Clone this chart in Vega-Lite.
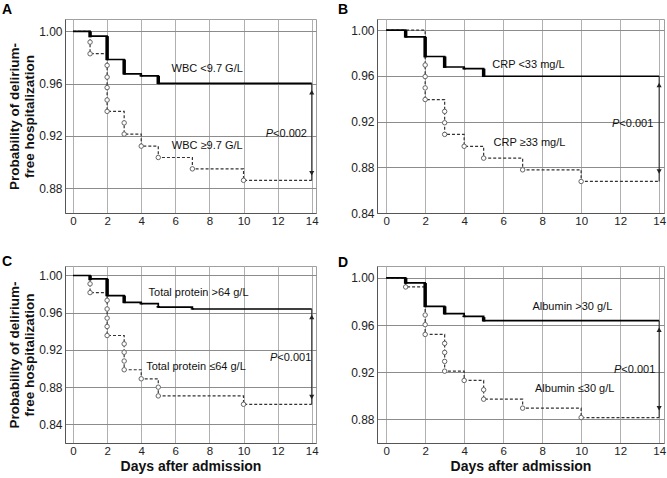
{
  "$schema": "https://vega.github.io/schema/vega-lite/v6.json",
  "background": "white",
  "padding": {"left": 1, "top": 2, "right": 0, "bottom": 0},
  "autosize": {"type": "pad"},
  "bounds": "flush",
  "columns": 2,
  "spacing": {"row": 53, "column": 61},
  "datasets": {
    "curve": [
      {"p":"A","g":"lo","day":0,"s":1},{"p":"A","g":"lo","day":1,"s":0.9964},{"p":"A","g":"lo","day":2,"s":0.9785},{"p":"A","g":"lo","day":3,"s":0.9675},{"p":"A","g":"lo","day":4,"s":0.966},{"p":"A","g":"lo","day":5,"s":0.9603},{"p":"A","g":"lo","day":14,"s":0.9603},
      {"p":"A","g":"hi","day":0,"s":1},{"p":"A","g":"hi","day":1,"s":0.983},{"p":"A","g":"hi","day":2,"s":0.9388},{"p":"A","g":"hi","day":3,"s":0.9214},{"p":"A","g":"hi","day":4,"s":0.9122},{"p":"A","g":"hi","day":5,"s":0.9035},{"p":"A","g":"hi","day":7,"s":0.8948},{"p":"A","g":"hi","day":10,"s":0.886},{"p":"A","g":"hi","day":14,"s":0.886},
      {"p":"B","g":"lo","day":0,"s":1},{"p":"B","g":"lo","day":1,"s":0.9942},{"p":"B","g":"lo","day":2,"s":0.977},{"p":"B","g":"lo","day":3,"s":0.9678},{"p":"B","g":"lo","day":4,"s":0.9663},{"p":"B","g":"lo","day":5,"s":0.9597},{"p":"B","g":"lo","day":14,"s":0.9597},
      {"p":"B","g":"hi","day":0,"s":1},{"p":"B","g":"hi","day":2,"s":0.9393},{"p":"B","g":"hi","day":3,"s":0.9088},{"p":"B","g":"hi","day":4,"s":0.8984},{"p":"B","g":"hi","day":5,"s":0.888},{"p":"B","g":"hi","day":7,"s":0.8778},{"p":"B","g":"hi","day":10,"s":0.8676},{"p":"B","g":"hi","day":14,"s":0.8676},
      {"p":"C","g":"lo","day":0,"s":1},{"p":"C","g":"lo","day":1,"s":0.9964},{"p":"C","g":"lo","day":2,"s":0.9784},{"p":"C","g":"lo","day":3,"s":0.9712},{"p":"C","g":"lo","day":4,"s":0.9697},{"p":"C","g":"lo","day":5,"s":0.9661},{"p":"C","g":"lo","day":7,"s":0.964},{"p":"C","g":"lo","day":14,"s":0.964},
      {"p":"C","g":"hi","day":0,"s":1},{"p":"C","g":"hi","day":1,"s":0.9816},{"p":"C","g":"hi","day":2,"s":0.9355},{"p":"C","g":"hi","day":3,"s":0.8987},{"p":"C","g":"hi","day":4,"s":0.889},{"p":"C","g":"hi","day":5,"s":0.8706},{"p":"C","g":"hi","day":10,"s":0.8616},{"p":"C","g":"hi","day":14,"s":0.8616},
      {"p":"D","g":"lo","day":0,"s":1},{"p":"D","g":"lo","day":1,"s":0.9957},{"p":"D","g":"lo","day":2,"s":0.9759},{"p":"D","g":"lo","day":3,"s":0.9696},{"p":"D","g":"lo","day":4,"s":0.9674},{"p":"D","g":"lo","day":5,"s":0.9637},{"p":"D","g":"lo","day":14,"s":0.9637},
      {"p":"D","g":"hi","day":0,"s":1},{"p":"D","g":"hi","day":1,"s":0.9923},{"p":"D","g":"hi","day":2,"s":0.952},{"p":"D","g":"hi","day":3,"s":0.9208},{"p":"D","g":"hi","day":4,"s":0.9129},{"p":"D","g":"hi","day":5,"s":0.897},{"p":"D","g":"hi","day":7,"s":0.8894},{"p":"D","g":"hi","day":10,"s":0.8814},{"p":"D","g":"hi","day":14,"s":0.8814}
    ],
    "bars": [
      {"p":"A","day":1,"s":1.0,"s2":0.9955},{"p":"A","day":2,"s":0.9964,"s2":0.978},{"p":"A","day":3,"s":0.9785,"s2":0.967},{"p":"A","day":4,"s":0.9667,"s2":0.9655},{"p":"A","day":5,"s":0.966,"s2":0.9597},
      {"p":"B","day":1,"s":1.0,"s2":0.9935},{"p":"B","day":2,"s":0.9942,"s2":0.9762},{"p":"B","day":3,"s":0.977,"s2":0.967},{"p":"B","day":4,"s":0.967,"s2":0.9657},{"p":"B","day":5,"s":0.9663,"s2":0.959},
      {"p":"C","day":1,"s":1.0,"s2":0.995},{"p":"C","day":2,"s":0.9964,"s2":0.9777},{"p":"C","day":3,"s":0.9784,"s2":0.9703},{"p":"C","day":4,"s":0.9703,"s2":0.969},{"p":"C","day":5,"s":0.9672,"s2":0.9655},{"p":"C","day":7,"s":0.9648,"s2":0.9635},
      {"p":"D","day":1,"s":1.0,"s2":0.995},{"p":"D","day":2,"s":0.9957,"s2":0.9752},{"p":"D","day":3,"s":0.9759,"s2":0.969},{"p":"D","day":4,"s":0.968,"s2":0.9667},{"p":"D","day":5,"s":0.9667,"s2":0.963}
    ],
    "circ": [
      {"p":"A","day":1,"s":0.9918},{"p":"A","day":1,"s":0.9829},{"p":"A","day":2,"s":0.974},{"p":"A","day":2,"s":0.965},{"p":"A","day":2,"s":0.957},{"p":"A","day":2,"s":0.9475},{"p":"A","day":2,"s":0.9388},{"p":"A","day":3,"s":0.930},{"p":"A","day":3,"s":0.9214},{"p":"A","day":4,"s":0.9122},{"p":"A","day":5,"s":0.9035},{"p":"A","day":7,"s":0.8948},{"p":"A","day":10,"s":0.886},
      {"p":"B","day":2,"s":0.9695},{"p":"B","day":2,"s":0.9594},{"p":"B","day":2,"s":0.9495},{"p":"B","day":2,"s":0.9393},{"p":"B","day":3,"s":0.9289},{"p":"B","day":3,"s":0.919},{"p":"B","day":3,"s":0.9088},{"p":"B","day":4,"s":0.8984},{"p":"B","day":5,"s":0.888},{"p":"B","day":7,"s":0.8778},{"p":"B","day":10,"s":0.8676},
      {"p":"C","day":1,"s":0.991},{"p":"C","day":1,"s":0.9816},{"p":"C","day":2,"s":0.9733},{"p":"C","day":2,"s":0.964},{"p":"C","day":2,"s":0.9542},{"p":"C","day":2,"s":0.9452},{"p":"C","day":2,"s":0.9355},{"p":"C","day":3,"s":0.9265},{"p":"C","day":3,"s":0.9175},{"p":"C","day":3,"s":0.9081},{"p":"C","day":3,"s":0.8987},{"p":"C","day":4,"s":0.889},{"p":"C","day":5,"s":0.88},{"p":"C","day":5,"s":0.8706},{"p":"C","day":10,"s":0.8616},
      {"p":"D","day":1,"s":0.9923},{"p":"D","day":2,"s":0.9685},{"p":"D","day":2,"s":0.9603},{"p":"D","day":2,"s":0.952},{"p":"D","day":3,"s":0.9444},{"p":"D","day":3,"s":0.9367},{"p":"D","day":3,"s":0.9291},{"p":"D","day":3,"s":0.9208},{"p":"D","day":4,"s":0.9129},{"p":"D","day":5,"s":0.905},{"p":"D","day":5,"s":0.897},{"p":"D","day":7,"s":0.8894},{"p":"D","day":10,"s":0.8814}
    ],
    "arrow": [
      {"p":"A","day":14,"s":0.9603,"s2":0.886},{"p":"B","day":14,"s":0.9597,"s2":0.8676},{"p":"C","day":14,"s":0.964,"s2":0.8616},{"p":"D","day":14,"s":0.9637,"s2":0.8814}
    ],
    "head": [
      {"p":"A","day":14,"s":0.9534,"shape":"triangle-up"},{"p":"A","day":14,"s":0.8914,"shape":"triangle-down"},
      {"p":"B","day":14,"s":0.952,"shape":"triangle-up"},{"p":"B","day":14,"s":0.8763,"shape":"triangle-down"},
      {"p":"C","day":14,"s":0.9554,"shape":"triangle-up"},{"p":"C","day":14,"s":0.8695,"shape":"triangle-down"},
      {"p":"D","day":14,"s":0.956,"shape":"triangle-up"},{"p":"D","day":14,"s":0.8893,"shape":"triangle-down"}
    ],
    "lab": [
      {"p":"A","day":7.87,"s":0.9713,"t":"WBC <9.7 G/L"},{"p":"A","day":7.87,"s":0.9125,"t":"WBC ≥9.7 G/L"},
      {"p":"B","day":7.30,"s":0.9692,"t":"CRP <33 mg/L"},{"p":"B","day":7.35,"s":0.9016,"t":"CRP ≥33 mg/L"},
      {"p":"C","day":7.36,"s":0.9816,"t":"Total protein >64 g/L"},{"p":"C","day":7.21,"s":0.9013,"t":"Total protein ≤64 g/L"},
      {"p":"D","day":9.55,"s":0.975,"t":"Albumin >30 g/L"},{"p":"D","day":9.67,"s":0.9055,"t":"Albumin ≤30 g/L"}
    ],
    "pv": [
      {"p":"A","day":11.73,"s":0.9214,"t":"<0.002"},{"p":"B","day":11.96,"s":0.918,"t":"<0.001"},{"p":"C","day":11.98,"s":0.9113,"t":"<0.001"},{"p":"D","day":12.06,"s":0.922,"t":"<0.001"}
    ]
  },
  "concat": [
    {
      "width": 251, "height": 194,
      "title": {"text": "A", "anchor": "start", "frame": "group", "dx": -63, "dy": 18, "offset": 9, "baseline": "alphabetic", "fontSize": 14, "fontWeight": "bold", "color": "#000"},
      "encoding": {
        "x": {"field": "day", "type": "quantitative", "scale": {"domain": [-0.47, 14.25], "nice": false, "zero": false}, "axis": {"values": [0,2,4,6,8,10,12,14], "title": null}},
        "y": {"field": "s", "type": "quantitative", "scale": {"domain": [0.861, 1.0095], "nice": false, "zero": false}, "axis": {"values": [0.88,0.92,0.96,1.0], "format": ".2f", "title": ["Probability of delirium-", "free hospitalization"]}}
      },
      "layer": [
        {"data": {"name": "curve"}, "transform": [{"filter": "datum.p==='A' && datum.g==='hi'"}], "mark": {"type": "line", "interpolate": "step-after", "color": "#333", "strokeWidth": 1.2, "strokeDash": [3,2]}},
        {"data": {"name": "curve"}, "transform": [{"filter": "datum.p==='A' && datum.g==='lo'"}], "mark": {"type": "line", "interpolate": "step-after", "color": "#000", "strokeWidth": 1.7}},
        {"data": {"name": "bars"}, "transform": [{"filter": "datum.p==='A'"}], "mark": {"type": "rule", "color": "#000", "strokeWidth": 3.5}, "encoding": {"y2": {"field": "s2"}}},
        {"data": {"name": "circ"}, "transform": [{"filter": "datum.p==='A'"}], "mark": {"type": "point", "shape": "circle", "filled": true, "fill": "white", "stroke": "#666", "strokeWidth": 1, "size": 20, "opacity": 1}},
        {"data": {"name": "arrow"}, "transform": [{"filter": "datum.p==='A'"}], "mark": {"type": "rule", "color": "#222", "strokeWidth": 1}, "encoding": {"y2": {"field": "s2"}}},
        {"data": {"name": "head"}, "transform": [{"filter": "datum.p==='A'"}], "mark": {"type": "point", "filled": true, "color": "#222", "size": 26, "opacity": 1}, "encoding": {"shape": {"field": "shape", "type": "nominal", "scale": null}}},
        {"data": {"name": "lab"}, "transform": [{"filter": "datum.p==='A'"}], "mark": {"type": "text", "fontSize": 11, "align": "center", "baseline": "middle", "color": "#111"}, "encoding": {"text": {"field": "t"}}},
        {"data": {"name": "pv"}, "transform": [{"filter": "datum.p==='A'"}], "mark": {"type": "text", "text": "P", "fontStyle": "italic", "fontSize": 11, "align": "right", "baseline": "middle", "color": "#111"}},
        {"data": {"name": "pv"}, "transform": [{"filter": "datum.p==='A'"}], "mark": {"type": "text", "fontSize": 11, "align": "left", "baseline": "middle", "color": "#111"}, "encoding": {"text": {"field": "t"}}}
      ]
    },
    {
      "width": 287, "height": 194,
      "title": {"text": "B", "anchor": "start", "frame": "group", "dx": -39, "dy": 18, "offset": 9, "baseline": "alphabetic", "fontSize": 14, "fontWeight": "bold", "color": "#000"},
      "encoding": {
        "x": {"field": "day", "type": "quantitative", "scale": {"domain": [-0.47, 14.25], "nice": false, "zero": false}, "axis": {"values": [0,2,4,6,8,10,12,14], "title": null}},
        "y": {"field": "s", "type": "quantitative", "scale": {"domain": [0.84, 1.0098], "nice": false, "zero": false}, "axis": {"values": [0.84,0.88,0.92,0.96,1.0], "format": ".2f", "title": null}}
      },
      "layer": [
        {"data": {"name": "curve"}, "transform": [{"filter": "datum.p==='B' && datum.g==='hi'"}], "mark": {"type": "line", "interpolate": "step-after", "color": "#333", "strokeWidth": 1.2, "strokeDash": [3,2]}},
        {"data": {"name": "curve"}, "transform": [{"filter": "datum.p==='B' && datum.g==='lo'"}], "mark": {"type": "line", "interpolate": "step-after", "color": "#000", "strokeWidth": 1.7}},
        {"data": {"name": "bars"}, "transform": [{"filter": "datum.p==='B'"}], "mark": {"type": "rule", "color": "#000", "strokeWidth": 3.5}, "encoding": {"y2": {"field": "s2"}}},
        {"data": {"name": "circ"}, "transform": [{"filter": "datum.p==='B'"}], "mark": {"type": "point", "shape": "circle", "filled": true, "fill": "white", "stroke": "#666", "strokeWidth": 1, "size": 20, "opacity": 1}},
        {"data": {"name": "arrow"}, "transform": [{"filter": "datum.p==='B'"}], "mark": {"type": "rule", "color": "#222", "strokeWidth": 1}, "encoding": {"y2": {"field": "s2"}}},
        {"data": {"name": "head"}, "transform": [{"filter": "datum.p==='B'"}], "mark": {"type": "point", "filled": true, "color": "#222", "size": 26, "opacity": 1}, "encoding": {"shape": {"field": "shape", "type": "nominal", "scale": null}}},
        {"data": {"name": "lab"}, "transform": [{"filter": "datum.p==='B'"}], "mark": {"type": "text", "fontSize": 11, "align": "center", "baseline": "middle", "color": "#111"}, "encoding": {"text": {"field": "t"}}},
        {"data": {"name": "pv"}, "transform": [{"filter": "datum.p==='B'"}], "mark": {"type": "text", "text": "P", "fontStyle": "italic", "fontSize": 11, "align": "right", "baseline": "middle", "color": "#111"}},
        {"data": {"name": "pv"}, "transform": [{"filter": "datum.p==='B'"}], "mark": {"type": "text", "fontSize": 11, "align": "left", "baseline": "middle", "color": "#111"}, "encoding": {"text": {"field": "t"}}}
      ]
    },
    {
      "width": 251, "height": 177,
      "title": {"text": "C", "anchor": "start", "frame": "group", "dx": -63, "dy": 15, "offset": 1, "baseline": "alphabetic", "fontSize": 14, "fontWeight": "bold", "color": "#000"},
      "encoding": {
        "x": {"field": "day", "type": "quantitative", "scale": {"domain": [-0.47, 14.25], "nice": false, "zero": false}, "axis": {"values": [0,2,4,6,8,10,12,14], "title": "Days after admission"}},
        "y": {"field": "s", "type": "quantitative", "scale": {"domain": [0.82, 1.0102], "nice": false, "zero": false}, "axis": {"values": [0.84,0.88,0.92,0.96,1.0], "format": ".2f", "title": ["Probability of delirium-", "free hospitalization"]}}
      },
      "layer": [
        {"data": {"name": "curve"}, "transform": [{"filter": "datum.p==='C' && datum.g==='hi'"}], "mark": {"type": "line", "interpolate": "step-after", "color": "#333", "strokeWidth": 1.2, "strokeDash": [3,2]}},
        {"data": {"name": "curve"}, "transform": [{"filter": "datum.p==='C' && datum.g==='lo'"}], "mark": {"type": "line", "interpolate": "step-after", "color": "#000", "strokeWidth": 1.7}},
        {"data": {"name": "bars"}, "transform": [{"filter": "datum.p==='C'"}], "mark": {"type": "rule", "color": "#000", "strokeWidth": 3.5}, "encoding": {"y2": {"field": "s2"}}},
        {"data": {"name": "circ"}, "transform": [{"filter": "datum.p==='C'"}], "mark": {"type": "point", "shape": "circle", "filled": true, "fill": "white", "stroke": "#666", "strokeWidth": 1, "size": 20, "opacity": 1}},
        {"data": {"name": "arrow"}, "transform": [{"filter": "datum.p==='C'"}], "mark": {"type": "rule", "color": "#222", "strokeWidth": 1}, "encoding": {"y2": {"field": "s2"}}},
        {"data": {"name": "head"}, "transform": [{"filter": "datum.p==='C'"}], "mark": {"type": "point", "filled": true, "color": "#222", "size": 26, "opacity": 1}, "encoding": {"shape": {"field": "shape", "type": "nominal", "scale": null}}},
        {"data": {"name": "lab"}, "transform": [{"filter": "datum.p==='C'"}], "mark": {"type": "text", "fontSize": 11, "align": "center", "baseline": "middle", "color": "#111"}, "encoding": {"text": {"field": "t"}}},
        {"data": {"name": "pv"}, "transform": [{"filter": "datum.p==='C'"}], "mark": {"type": "text", "text": "P", "fontStyle": "italic", "fontSize": 11, "align": "right", "baseline": "middle", "color": "#111"}},
        {"data": {"name": "pv"}, "transform": [{"filter": "datum.p==='C'"}], "mark": {"type": "text", "fontSize": 11, "align": "left", "baseline": "middle", "color": "#111"}, "encoding": {"text": {"field": "t"}}}
      ]
    },
    {
      "width": 287, "height": 177,
      "title": {"text": "D", "anchor": "start", "frame": "group", "dx": -39, "dy": 15, "offset": 0, "baseline": "alphabetic", "fontSize": 14, "fontWeight": "bold", "color": "#000"},
      "encoding": {
        "x": {"field": "day", "type": "quantitative", "scale": {"domain": [-0.47, 14.25], "nice": false, "zero": false}, "axis": {"values": [0,2,4,6,8,10,12,14], "title": "Days after admission"}},
        "y": {"field": "s", "type": "quantitative", "scale": {"domain": [0.8598, 1.0101], "nice": false, "zero": false}, "axis": {"values": [0.88,0.92,0.96,1.0], "format": ".2f", "title": null}}
      },
      "layer": [
        {"data": {"name": "curve"}, "transform": [{"filter": "datum.p==='D' && datum.g==='hi'"}], "mark": {"type": "line", "interpolate": "step-after", "color": "#333", "strokeWidth": 1.2, "strokeDash": [3,2]}},
        {"data": {"name": "curve"}, "transform": [{"filter": "datum.p==='D' && datum.g==='lo'"}], "mark": {"type": "line", "interpolate": "step-after", "color": "#000", "strokeWidth": 1.7}},
        {"data": {"name": "bars"}, "transform": [{"filter": "datum.p==='D'"}], "mark": {"type": "rule", "color": "#000", "strokeWidth": 3.5}, "encoding": {"y2": {"field": "s2"}}},
        {"data": {"name": "circ"}, "transform": [{"filter": "datum.p==='D'"}], "mark": {"type": "point", "shape": "circle", "filled": true, "fill": "white", "stroke": "#666", "strokeWidth": 1, "size": 20, "opacity": 1}},
        {"data": {"name": "arrow"}, "transform": [{"filter": "datum.p==='D'"}], "mark": {"type": "rule", "color": "#222", "strokeWidth": 1}, "encoding": {"y2": {"field": "s2"}}},
        {"data": {"name": "head"}, "transform": [{"filter": "datum.p==='D'"}], "mark": {"type": "point", "filled": true, "color": "#222", "size": 26, "opacity": 1}, "encoding": {"shape": {"field": "shape", "type": "nominal", "scale": null}}},
        {"data": {"name": "lab"}, "transform": [{"filter": "datum.p==='D'"}], "mark": {"type": "text", "fontSize": 11, "align": "center", "baseline": "middle", "color": "#111"}, "encoding": {"text": {"field": "t"}}},
        {"data": {"name": "pv"}, "transform": [{"filter": "datum.p==='D'"}], "mark": {"type": "text", "text": "P", "fontStyle": "italic", "fontSize": 11, "align": "right", "baseline": "middle", "color": "#111"}},
        {"data": {"name": "pv"}, "transform": [{"filter": "datum.p==='D'"}], "mark": {"type": "text", "fontSize": 11, "align": "left", "baseline": "middle", "color": "#111"}, "encoding": {"text": {"field": "t"}}}
      ]
    }
  ],
  "config": {
    "font": "Liberation Sans",
    "view": {"stroke": "#a0a0a0", "strokeWidth": 1},
    "title": {"font": "Liberation Sans"},
    "text": {"font": "Liberation Sans"},
    "axis": {"grid": true, "ticks": false, "tickSize": 0, "domainColor": "#555555", "domainWidth": 1, "labelFont": "Liberation Sans", "labelColor": "#222222", "titleFont": "Liberation Sans", "titleFontWeight": "bold", "titleColor": "#111111"},
    "axisX": {"gridColor": "#b0b0b0", "labelFontSize": 11.5, "labelPadding": 2, "titleFontSize": 14, "titlePadding": 3},
    "axisY": {"gridColor": "#8c8c8c", "labelFontSize": 12, "labelPadding": 3, "titleFontSize": 13.5, "titleLineHeight": 15, "titlePadding": 2}
  }
}
